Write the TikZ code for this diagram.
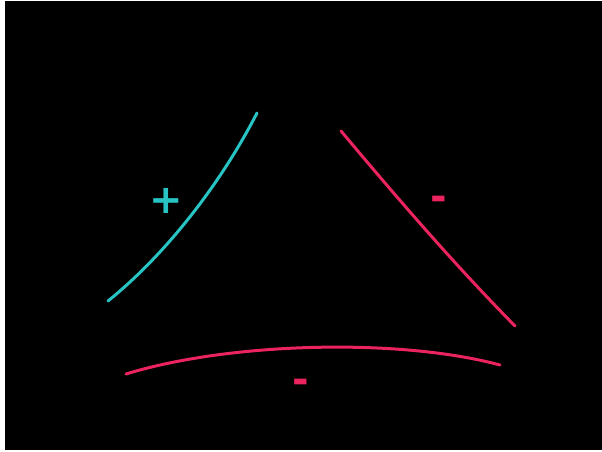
\documentclass[tikz,border=0pt]{standalone}
\usepackage{fontspec}
\setsansfont{DejaVu Sans}
\usetikzlibrary{positioning}
\definecolor{chargecyan}{RGB}{40,195,195}
\definecolor{chargered}{RGB}{235,35,95}

\begin{document}
\begin{tikzpicture}[x=1pt,y=-1pt,
  edge/.style={line width=3pt,line cap=round},
  sign/.style={font=\fontsize{40}{40}\sffamily\bfseries,inner sep=0pt}]
  % frame
  \fill[white] (0,0) rectangle (602,452);
  \fill[black] (5,1) rectangle (602,450);
  \useasboundingbox (0,0) rectangle (602,452);
  % curved sides
  \coordinate (lb) at (108,301); \coordinate (lt) at (257,113);
  \coordinate (rt) at (341,131); \coordinate (rb) at (515,326);
  \coordinate (bl) at (126,374); \coordinate (br) at (500,365);
  \draw[edge,chargecyan] (lb) .. controls (165,255) and (220,185) .. (lt);
  \draw[edge,chargered] (rt) .. controls (393,193) and (452,262) .. (rb);
  \draw[edge,chargered] (bl) .. controls (230,342) and (400,338) .. (br);
  % signs
  \node[sign,text=chargecyan] (plus) at (166,201) {+};
  \node[sign,text=chargered] (minusR) at (439,203) {-};
  \node[sign,text=chargered] (minusB) at (301,386) {-};
\end{tikzpicture}
\end{document}
